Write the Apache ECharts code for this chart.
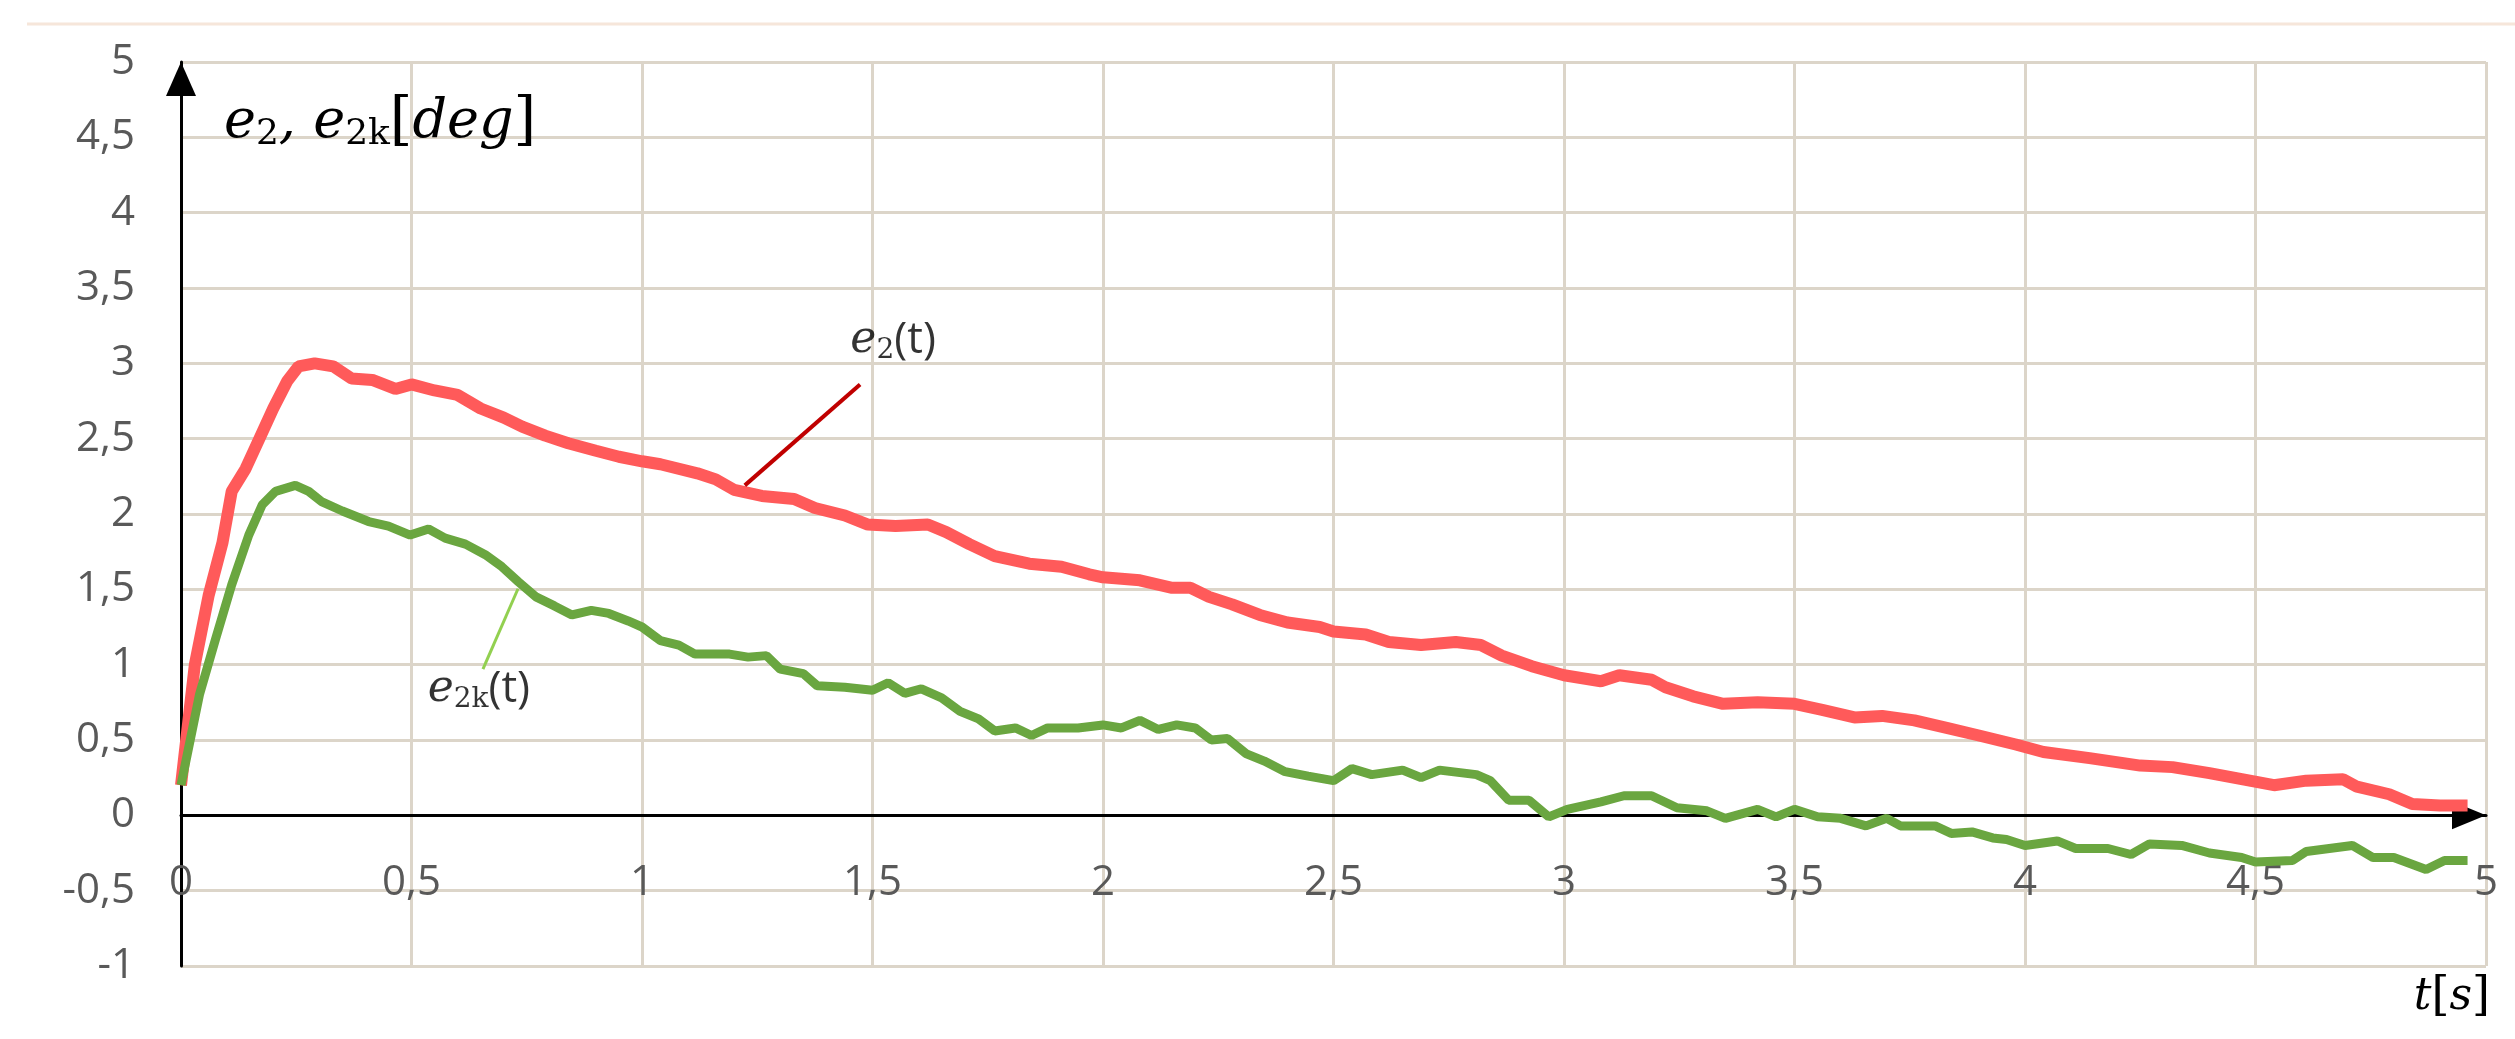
<!DOCTYPE html>
<html>
<head>
<meta charset="utf-8">
<script src="https://cdn.jsdelivr.net/npm/echarts@6/dist/echarts.min.js"></script>
<style>html,body{margin:0;padding:0;background:#fff}#c{width:2515px;height:1039px}</style>
</head>
<body>
<div id="c"></div>
<script>
// time [s] and e2 [deg]
const e2T = [0,0.03,0.06,0.09,0.11,0.14,0.17,0.2,0.23,0.255,0.29,0.33,0.37,0.415,0.465,0.5,0.55,0.6,0.65,0.7,0.74,0.79,0.84,0.9,0.95,1.0,1.04,1.12,1.16,1.2,1.26,1.33,1.375,1.44,1.49,1.55,1.62,1.66,1.71,1.765,1.84,1.91,1.97,2.0,2.08,2.15,2.19,2.23,2.28,2.34,2.4,2.47,2.5,2.57,2.62,2.69,2.765,2.82,2.865,2.93,3.0,3.08,3.12,3.19,3.22,3.28,3.345,3.42,3.5,3.56,3.63,3.69,3.76,3.83,3.9,3.98,4.04,4.14,4.25,4.32,4.4,4.47,4.54,4.61,4.69,4.72,4.79,4.84,4.9,4.96];
const e2V = [0.2,1.0,1.46,1.81,2.15,2.3,2.5,2.7,2.88,2.98,3.0,2.98,2.9,2.89,2.83,2.86,2.82,2.79,2.7,2.64,2.58,2.52,2.47,2.42,2.38,2.35,2.33,2.27,2.23,2.16,2.12,2.1,2.04,1.99,1.93,1.92,1.93,1.88,1.8,1.72,1.67,1.65,1.6,1.58,1.56,1.51,1.51,1.45,1.4,1.33,1.28,1.25,1.22,1.2,1.15,1.13,1.15,1.13,1.06,0.99,0.93,0.89,0.93,0.9,0.85,0.79,0.74,0.75,0.74,0.7,0.65,0.66,0.63,0.58,0.53,0.47,0.42,0.38,0.33,0.32,0.28,0.24,0.2,0.23,0.24,0.19,0.14,0.075,0.065,0.065];
// time [s] and e2k [deg]
const e2kT = [0,0.04,0.075,0.11,0.147,0.176,0.205,0.248,0.277,0.306,0.35,0.407,0.45,0.497,0.537,0.573,0.617,0.66,0.696,0.732,0.77,0.81,0.848,0.89,0.928,0.97,1.0,1.04,1.08,1.115,1.19,1.23,1.27,1.3,1.35,1.38,1.44,1.5,1.534,1.57,1.606,1.65,1.69,1.73,1.765,1.81,1.845,1.88,1.946,2.0,2.04,2.08,2.12,2.16,2.2,2.235,2.27,2.31,2.35,2.395,2.445,2.5,2.54,2.583,2.65,2.69,2.73,2.81,2.84,2.88,2.924,2.967,3.007,3.08,3.13,3.19,3.245,3.31,3.35,3.42,3.46,3.5,3.55,3.6,3.655,3.7,3.73,3.805,3.84,3.885,3.93,3.96,4.0,4.07,4.11,4.18,4.23,4.27,4.34,4.4,4.47,4.5,4.58,4.61,4.71,4.755,4.8,4.87,4.91,4.96];
const e2kV = [0.2,0.8,1.17,1.53,1.86,2.06,2.15,2.19,2.15,2.08,2.02,1.95,1.92,1.86,1.9,1.84,1.8,1.73,1.65,1.55,1.45,1.39,1.33,1.36,1.34,1.29,1.25,1.16,1.13,1.07,1.07,1.05,1.06,0.97,0.94,0.86,0.85,0.83,0.88,0.81,0.84,0.78,0.69,0.64,0.56,0.58,0.53,0.58,0.58,0.6,0.58,0.63,0.57,0.6,0.58,0.5,0.51,0.41,0.36,0.29,0.26,0.23,0.31,0.27,0.3,0.25,0.3,0.27,0.23,0.1,0.1,-0.01,0.04,0.09,0.13,0.13,0.05,0.03,-0.02,0.04,-0.01,0.04,-0.01,-0.02,-0.07,-0.02,-0.07,-0.07,-0.12,-0.11,-0.15,-0.16,-0.2,-0.17,-0.22,-0.22,-0.26,-0.19,-0.2,-0.25,-0.28,-0.31,-0.3,-0.24,-0.2,-0.28,-0.28,-0.36,-0.3,-0.3];
// annotation anchors (data units)
const e2Leader = [[1.223, 2.19], [1.473, 2.86]];
const e2kLeader = [[0.731, 1.504], [0.655, 0.971]];
const e2LabelPos = [1.452, 3.154];
const e2kLabelPos = [0.535, 0.838];
const xTicks = {min: 0, max: 5, step: 0.5};
const yTicks = {min: -1, max: 5, step: 0.5};

const zip = (a, b) => a.map((v, i) => [v, b[i]]);
const comma = v => String(v).replace('.', ',');
const serif = 'DejaVu Serif';

const chart = echarts.init(document.getElementById('c'), null, {renderer: 'canvas'});
const labelRich = {
  e: {fontFamily: serif, fontStyle: 'italic', fontSize: 44, lineHeight: 50, color: '#000', verticalAlign: 'middle'},
  s: {fontFamily: serif, fontSize: 28, lineHeight: 8, color: '#000', verticalAlign: 'bottom'},
  t: {fontFamily: 'Open Sans', fontSize: 44, lineHeight: 50, color: '#000', verticalAlign: 'middle'}
};
chart.setOption({
  animation: false,
  backgroundColor: '#fff',
  grid: {left: 181, right: 29, top: 62, bottom: 73, containLabel: false, outerBoundsMode: 'none'},
  graphic: [
    {type: 'line', shape: {x1: 27, y1: 24, x2: 2515, y2: 24}, style: {stroke: '#f6e6da', lineWidth: 3}, silent: true},
    {type: 'text', x: 2490, y: 998, silent: true,
      style: {text: '{i|t}{b|[}{i|s}{b|]}', align: 'right', verticalAlign: 'middle',
        rich: {i: {fontFamily: serif, fontStyle: 'italic', fontSize: 44, fill: '#000'},
               b: {fontFamily: serif, fontSize: 46, fill: '#000'}}}}
  ],
  xAxis: {
    type: 'value', min: xTicks.min, max: xTicks.max, interval: xTicks.step,
    axisLine: {onZero: true, lineStyle: {color: '#000', width: 3}, symbol: ['none', 'triangle'], symbolSize: [28, 34], symbolOffset: [0, -17]},
    axisTick: {show: false},
    axisLabel: {margin: -104, fontSize: 42, fontFamily: 'Open Sans', color: '#595959', formatter: comma, showMinLabel: true, showMaxLabel: true},
    splitLine: {show: true, lineStyle: {color: '#dcd5c9', width: 3}}
  },
  yAxis: {
    type: 'value', min: yTicks.min, max: yTicks.max, interval: yTicks.step,
    name: '{e|e}{s|2}{e|, e}{s|2k}{b|[}{e|deg}{b|]}',
    nameLocation: 'end', nameGap: -61,
    nameTextStyle: {align: 'left', verticalAlign: 'middle', padding: [0, 0, 0, 43],
      rich: {e: {fontFamily: serif, fontStyle: 'italic', fontSize: 54, lineHeight: 60, color: '#000', verticalAlign: 'middle'},
             s: {fontFamily: serif, fontSize: 36, lineHeight: 14, color: '#000', verticalAlign: 'bottom'},
             b: {fontFamily: serif, fontSize: 58, lineHeight: 60, color: '#000', verticalAlign: 'middle'}}},
    axisLine: {show: true, onZero: true, lineStyle: {color: '#000', width: 3}, symbol: ['none', 'triangle'], symbolSize: [30, 34], symbolOffset: [0, -17]},
    axisTick: {show: false},
    axisLabel: {margin: 46, fontSize: 42, fontFamily: 'Open Sans', color: '#595959', formatter: comma, showMinLabel: true, showMaxLabel: true},
    splitLine: {show: true, lineStyle: {color: '#dcd5c9', width: 3}}
  },
  series: [
    {
      name: 'e2', type: 'line', data: zip(e2T, e2V), showSymbol: false, symbol: 'none',
      lineStyle: {color: '#ff5a5a', width: 12}, z: 3,
      markLine: {silent: true, symbol: 'none', label: {show: false},
        lineStyle: {color: '#c00000', width: 4, type: 'solid'},
        data: [[{coord: e2Leader[0]}, {coord: e2Leader[1]}]]}
    },
    {
      name: 'e2k', type: 'line', data: zip(e2kT, e2kV), showSymbol: false, symbol: 'none',
      lineStyle: {color: '#6aa640', width: 9}, z: 3,
      markLine: {silent: true, symbol: 'none', label: {show: false},
        lineStyle: {color: '#92d050', width: 3, type: 'solid'},
        data: [[{coord: e2kLeader[0]}, {coord: e2kLeader[1]}]]}
    },
    {
      type: 'scatter', symbolSize: 0, silent: true, z: 5,
      data: [
        {value: e2LabelPos, label: {formatter: '{e|e}{s|2}{t|(t)}'}},
        {value: e2kLabelPos, label: {formatter: '{e|e}{s|2k}{t|(t)}'}}
      ],
      label: {show: true, position: 'right', distance: 0, rich: labelRich}
    }
  ]
});
</script>
</body>
</html>
